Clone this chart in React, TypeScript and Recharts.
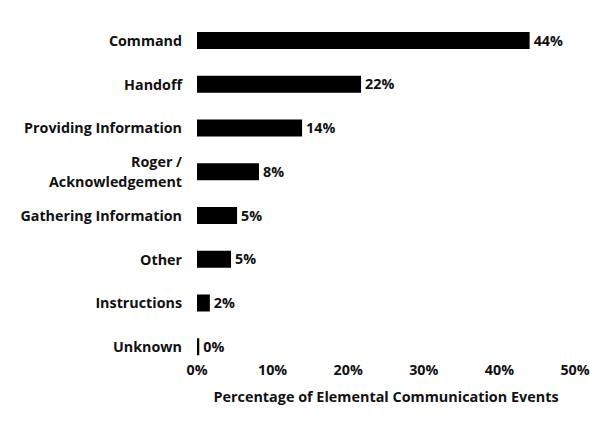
import React from 'react';
import { BarChart, Bar, XAxis, YAxis, LabelList } from 'recharts';

const categories = [
  'Command',
  'Handoff',
  'Providing Information',
  'Roger / Acknowledgement',
  'Gathering Information',
  'Other',
  'Instructions',
  'Unknown',
];
const values = [44.0, 21.7, 13.9, 8.2, 5.3, 4.5, 1.7, 0.3];
const valueLabels = ['44%', '22%', '14%', '8%', '5%', '5%', '2%', '0%'];
const xTicks = [0, 10, 20, 30, 40, 50];
const xTitle = 'Percentage of Elemental Communication Events';

const data = categories.map((c, i) => ({ name: c, value: values[i], label: valueLabels[i] }));

const FONT = '"Open Sans", "Noto Sans", sans-serif';
const TEXT = '#111';
const FS = 14.3;

const YTick = (props: any) => {
  const { x, y, payload } = props;
  const v: string = payload.value;
  const lines = v.includes(' / ') ? [v.split(' / ')[0] + ' /', v.split(' / ')[1]] : [v];
  const lh = 20;
  const start = -((lines.length - 1) * lh) / 2;
  return (
    <text x={x} y={y} textAnchor="end" fontFamily={FONT} fontWeight={700} fontSize={FS} fill={TEXT}>
      {lines.map((l, i) => (
        <tspan key={i} x={x} dy={i === 0 ? start + 5 : lh}>
          {l}
        </tspan>
      ))}
    </text>
  );
};

const XTick = (props: any) => {
  const { x, y, payload } = props;
  return (
    <text x={x} y={y + 1} dy="0.35em" textAnchor="middle" fontFamily={FONT} fontWeight={700} fontSize={FS} fill={TEXT}>
      {payload.value + '%'}
    </text>
  );
};

export default function App() {
  return (
    <div style={{ position: 'absolute', left: 0, top: 0, width: 590, height: 440, background: '#fff' }}>
      <BarChart
        width={590}
        height={440}
        data={data}
        layout="vertical"
        margin={{ top: 19, right: 15, bottom: 31, left: 0 }}
        barCategoryGap={0}
      >
        <XAxis
          type="number"
          domain={[0, 50]}
          ticks={xTicks}
          axisLine={false}
          tickLine={false}
          tickSize={0}
          tickMargin={0}
          height={40}
          tick={<XTick />}
          interval={0}
          label={{
            value: xTitle,
            position: 'insideBottom',
            offset: 7,
            style: { fontFamily: FONT, fontWeight: 700, fontSize: 14.4, fill: TEXT },
          }}
        />
        <YAxis
          type="category"
          dataKey="name"
          width={197}
          axisLine={false}
          tickLine={false}
          tickSize={6}
          tickMargin={9}
          interval={0}
          tick={<YTick />}
        />
        <Bar dataKey="value" fill="#000" barSize={17} isAnimationActive={false}>
          <LabelList
            dataKey="label"
            position="right"
            offset={4}
            style={{ fontFamily: FONT, fontWeight: 700, fontSize: FS, fill: TEXT }}
          />
        </Bar>
      </BarChart>
    </div>
  );
}
